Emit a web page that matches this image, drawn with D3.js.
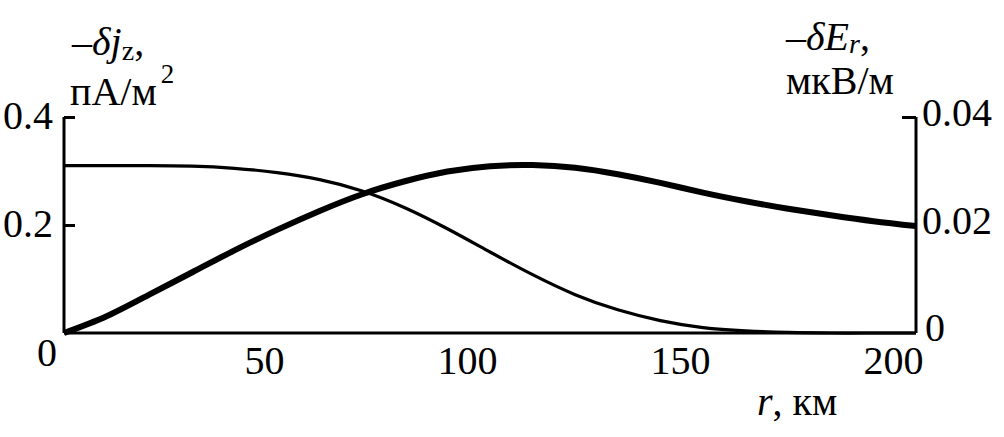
<!DOCTYPE html>
<html>
<head>
<meta charset="utf-8">
<script src="https://cdn.jsdelivr.net/npm/d3@7"></script>
<style>
  html, body { margin: 0; padding: 0; background: #fff; }
  svg { display: block; }
  text { font-family: "Liberation Serif", "DejaVu Serif", serif; fill: #000; }
</style>
</head>
<body>
<svg id="chart" width="1004" height="437"></svg>
<script>
// ---- data ----
const rKm = [0, 10, 20, 30, 40, 50, 60, 70, 80, 90, 100, 110, 120, 130, 140, 150, 160, 170, 180, 190, 200];
const deltaJz = [0.310, 0.310, 0.310, 0.309, 0.305, 0.297, 0.284, 0.263, 0.232, 0.193, 0.150, 0.108, 0.071, 0.043, 0.023, 0.010, 0.004, 0.001, 0.000, 0.000, 0.000];
const deltaEr = [0.0000, 0.0031, 0.0071, 0.0112, 0.0153, 0.0191, 0.0226, 0.0257, 0.0281, 0.0299, 0.0309, 0.0311, 0.0306, 0.0294, 0.0278, 0.0260, 0.0244, 0.0230, 0.0218, 0.0207, 0.0198];
const xTicks = [50, 100, 150, 200];
const leftTicks = [0, 0.2, 0.4];
const leftTickLabels = ["0", "0.2", "0.4"];
const rightTicks = [0, 0.02, 0.04];
const rightTickLabels = ["0", "0.02", "0.04"];

// ---- layout ----
const svg = d3.select("#chart");
const x0 = 64, x1 = 916, yTop = 117, yBot = 333;

const x = d3.scaleLinear().domain([0, 200]).range([x0, x1]);
const yL = d3.scaleLinear().domain([0, 0.4]).range([yBot, yTop]);
const yR = d3.scaleLinear().domain([0, 0.04]).range([yBot, yTop]);

// curves
const jzLine = d3.line().x((d, i) => x(rKm[i])).y(d => yL(d)).curve(d3.curveNatural);
const erLine = d3.line().x((d, i) => x(rKm[i])).y(d => yR(d)).curve(d3.curveNatural);

// axes
const axL = svg.append("g").attr("transform", `translate(${x0},0)`)
  .call(d3.axisLeft(yL).tickValues(leftTicks).tickSize(-11).tickPadding(11)
    .tickFormat((d, i) => leftTickLabels[i]));
const axR = svg.append("g").attr("transform", `translate(${x1},0)`)
  .call(d3.axisRight(yR).tickValues(rightTicks).tickSize(-14).tickPadding(6)
    .tickFormat((d, i) => rightTickLabels[i]));
const axB = svg.append("g").attr("transform", `translate(0,${yBot})`)
  .call(d3.axisBottom(x).tickValues(xTicks).tickSize(0).tickPadding(0)
    .tickFormat(d3.format("d")));

[axL, axR, axB].forEach(g => {
  g.select(".domain").attr("stroke", "#000").attr("stroke-width", 3);
  g.selectAll(".tick line").attr("stroke", "#000").attr("stroke-width", 3);
  g.selectAll(".tick text").attr("font-size", 40).attr("fill", "#000")
    .attr("font-family", "Liberation Serif, serif");
});
axL.select(".domain").attr("d", `M0,${yTop}V${yBot}`);
axR.select(".domain").attr("d", `M0,${yTop}V${yBot}`);
axB.select(".domain").attr("d", `M${x0},0H${x1}`);

axB.selectAll(".tick text").attr("text-anchor", "end").attr("dx", 7).attr("dy", 0).attr("y", 41);
axL.selectAll(".tick text").attr("dy", "0.28em");
axL.selectAll(".tick").filter(d => d === 0).select("text").attr("x", -7).attr("dy", 0).attr("y", 32);
axR.selectAll(".tick text").attr("dy", "0.22em");
axR.selectAll(".tick").filter(d => d === 0).select("text").attr("x", 9).attr("dy", 0).attr("y", 7);
axR.selectAll(".tick").filter(d => d === 0).select("line").remove();
axL.selectAll(".tick").filter(d => d === 0).select("line").remove();

// lines
svg.append("path").datum(deltaJz).attr("d", jzLine)
  .attr("fill", "none").attr("stroke", "#000").attr("stroke-width", 3.2);
svg.append("path").datum(deltaEr).attr("d", erLine)
  .attr("fill", "none").attr("stroke", "#000").attr("stroke-width", 6);

// titles
const tl = svg.append("text").attr("x", 72).attr("y", 55).attr("font-size", 40);
tl.append("tspan").text("–");
tl.append("tspan").attr("font-style", "italic").text("δj");
tl.append("tspan").attr("font-size", 28).attr("dy", 5).text("z");
tl.append("tspan").attr("dy", -5).text(",");
const tl2 = svg.append("text").attr("x", 70).attr("y", 105).attr("font-size", 40);
tl2.append("tspan").text("пА/м");
tl2.append("tspan").attr("font-size", 27).attr("dx", 4).attr("dy", -22).text("2");

const tr = svg.append("text").attr("x", 786).attr("y", 50).attr("font-size", 40);
tr.append("tspan").text("–");
tr.append("tspan").attr("font-style", "italic").text("δE");
tr.append("tspan").attr("font-style", "italic").attr("font-size", 28).attr("dy", 3).text("r");
tr.append("tspan").attr("dy", -3).text(",");
svg.append("text").attr("x", 786).attr("y", 94).attr("font-size", 40).text("мкВ/м");

const xl = svg.append("text").attr("x", 757).attr("y", 415).attr("font-size", 40);
xl.append("tspan").attr("font-style", "italic").text("r");
xl.append("tspan").text(", км");
</script>
</body>
</html>
